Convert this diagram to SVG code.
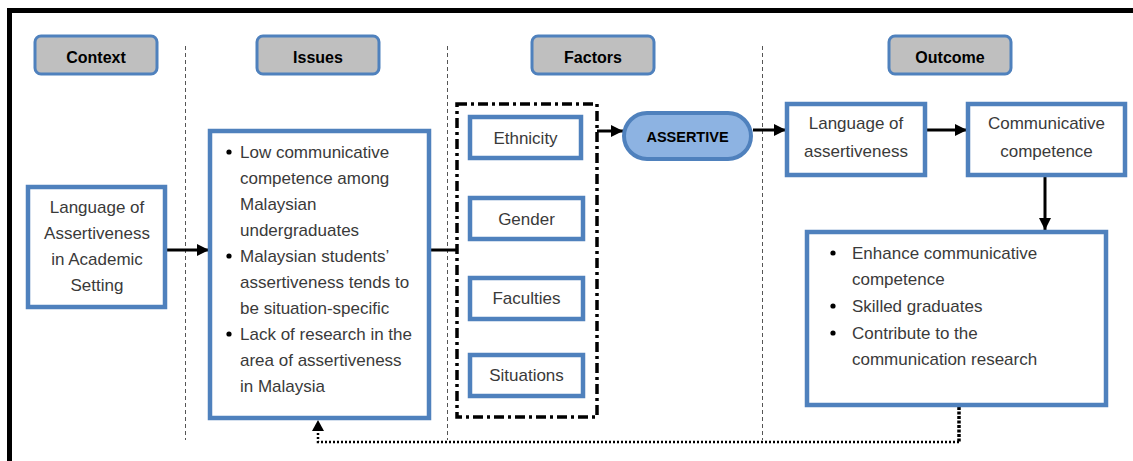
<svg xmlns="http://www.w3.org/2000/svg" width="1133" height="461" viewBox="0 0 1133 461">
  <defs>
    <marker id="arrow" viewBox="0 0 10 10" refX="10" refY="5" markerWidth="4" markerHeight="4" orient="auto" markerUnits="strokeWidth">
      <path d="M0,0 L10,5 L0,10 z" fill="#000"/>
    </marker>
    <marker id="arrowSmall" viewBox="0 0 10 10" refX="10" refY="5" markerWidth="5" markerHeight="5" orient="auto" markerUnits="strokeWidth">
      <path d="M0,0 L10,5 L0,10 z" fill="#000"/>
    </marker>
  </defs>
  <style>
    .frame { fill: none; stroke: #000; stroke-width: 5; }
    .divider { stroke: #555; stroke-width: 1; stroke-dasharray: 4 3; fill: none; }
    .head rect { fill: #BFBFBF; stroke: #4F81BD; stroke-width: 3; }
    .head text { font-family: "Liberation Sans", Arial, sans-serif; font-size: 16px; font-weight: bold; fill: #000; text-anchor: middle; }
    .box { fill: #fff; stroke: #4F81BD; stroke-width: 4.5; }
    .txt { font-family: "Liberation Sans", Arial, sans-serif; font-size: 17px; fill: #3a3a3a; }
    .mid { text-anchor: middle; }
    .pill { fill: #8DB3E2; stroke: #4F81BD; stroke-width: 4; }
    .pilltxt { font-family: "Liberation Sans", Arial, sans-serif; font-size: 14.5px; font-weight: bold; fill: #000; text-anchor: middle; }
    .group { fill: none; stroke: #000; stroke-width: 3.5; stroke-dasharray: 10 4 3 4; }
    .link { fill: none; stroke: #000; stroke-width: 3; }
    .feedback { fill: none; stroke: #000; stroke-width: 2.5; stroke-dasharray: 2 2; }
    .feedbackBold { fill: none; stroke: #000; stroke-width: 3.5; stroke-dasharray: 3 1.5; }
    .bullet { fill: #000; }
  </style>

  <rect width="1133" height="461" fill="#fff"/>

  <!-- outer frame: top and left edges -->
  <path class="frame" d="M9.5,461 L9.5,10.5 L1133,10.5"/>

  <!-- column dividers -->
  <g id="dividers">
    <line class="divider" x1="185.5" y1="46" x2="185.5" y2="440"/>
    <line class="divider" x1="447.5" y1="46" x2="447.5" y2="440"/>
    <line class="divider" x1="762.5" y1="46" x2="762.5" y2="440"/>
  </g>

  <!-- column headers -->
  <g id="head-context" class="head">
    <rect x="35" y="36" width="122" height="38" rx="6"/>
    <text x="96" y="63">Context</text>
  </g>
  <g id="head-issues" class="head">
    <rect x="257" y="36" width="122" height="38" rx="6"/>
    <text x="318" y="63">Issues</text>
  </g>
  <g id="head-factors" class="head">
    <rect x="532" y="36" width="122" height="38" rx="6"/>
    <text x="593" y="63">Factors</text>
  </g>
  <g id="head-outcome" class="head">
    <rect x="889" y="36" width="122" height="38" rx="6"/>
    <text x="950" y="63">Outcome</text>
  </g>

  <!-- connectors -->
  <g id="connectors">
    <line class="link" x1="167" y1="250" x2="209" y2="250" marker-end="url(#arrow)"/>
    <line class="link" x1="431" y1="250" x2="457" y2="250"/>
    <line class="link" x1="597" y1="131" x2="623" y2="131" marker-end="url(#arrow)"/>
    <line class="link" x1="753" y1="130" x2="786" y2="130" marker-end="url(#arrow)"/>
    <line class="link" x1="927" y1="130" x2="967" y2="130" marker-end="url(#arrow)"/>
    <line class="link" x1="1045" y1="177" x2="1045" y2="230" marker-end="url(#arrow)"/>
    <line class="feedbackBold" x1="959" y1="407" x2="959" y2="442"/>
    <path class="feedback" d="M959,442 L318,442 L318,430"/>
    <path d="M312,431 L318,420 L324,431 z" fill="#000"/>
  </g>

  <!-- context -->
  <g id="context">
    <rect class="box" x="28" y="187" width="137" height="120"/>
    <text class="txt mid" x="97" y="213">Language of</text>
    <text class="txt mid" x="97" y="239">Assertiveness</text>
    <text class="txt mid" x="97" y="265">in Academic</text>
    <text class="txt mid" x="97" y="291">Setting</text>
  </g>

  <!-- issues -->
  <g id="issues">
    <rect class="box" x="210" y="131" width="219" height="287"/>
    <circle class="bullet" cx="229" cy="152" r="2.6"/>
    <circle class="bullet" cx="229" cy="256" r="2.6"/>
    <circle class="bullet" cx="229" cy="334" r="2.6"/>
    <text class="txt" x="240" y="158">Low communicative</text>
    <text class="txt" x="240" y="184">competence among</text>
    <text class="txt" x="240" y="210">Malaysian</text>
    <text class="txt" x="240" y="236">undergraduates</text>
    <text class="txt" x="240" y="262">Malaysian students’</text>
    <text class="txt" x="240" y="288">assertiveness tends to</text>
    <text class="txt" x="240" y="314">be situation-specific</text>
    <text class="txt" x="240" y="340">Lack of research in the</text>
    <text class="txt" x="240" y="366">area of assertiveness</text>
    <text class="txt" x="240" y="392">in Malaysia</text>
  </g>

  <!-- factors -->
  <g id="factors">
    <rect class="group" x="457" y="104" width="140" height="313"/>
  </g>
  <g id="factor-ethnicity">
    <rect class="box" x="470" y="117" width="111" height="41"/>
    <text class="txt mid" x="525.5" y="144">Ethnicity</text>
  </g>
  <g id="factor-gender">
    <rect class="box" x="470" y="198" width="113" height="41"/>
    <text class="txt mid" x="526.5" y="225">Gender</text>
  </g>
  <g id="factor-faculties">
    <rect class="box" x="470" y="278" width="113" height="41"/>
    <text class="txt mid" x="526.5" y="304">Faculties</text>
  </g>
  <g id="factor-situations">
    <rect class="box" x="470" y="355" width="113" height="41"/>
    <text class="txt mid" x="526.5" y="381">Situations</text>
  </g>

  <!-- assertive -->
  <g id="assertive">
    <rect class="pill" x="624" y="113" width="127" height="46" rx="23"/>
    <text class="pilltxt" x="687.5" y="142">ASSERTIVE</text>
  </g>

  <!-- outcomes -->
  <g id="language-of-assertiveness">
    <rect class="box" x="787" y="104" width="138" height="71"/>
    <text class="txt mid" x="856" y="129">Language of</text>
    <text class="txt mid" x="856" y="157">assertiveness</text>
  </g>
  <g id="communicative-competence">
    <rect class="box" x="968" y="104" width="157" height="71"/>
    <text class="txt mid" x="1046.5" y="129">Communicative</text>
    <text class="txt mid" x="1046.5" y="157">competence</text>
  </g>
  <g id="benefits">
    <rect class="box" x="807" y="232" width="299" height="173"/>
    <circle class="bullet" cx="833" cy="253" r="2.6"/>
    <circle class="bullet" cx="833" cy="306" r="2.6"/>
    <circle class="bullet" cx="833" cy="333" r="2.6"/>
    <text class="txt" x="852" y="259">Enhance communicative</text>
    <text class="txt" x="852" y="285">competence</text>
    <text class="txt" x="852" y="312">Skilled graduates</text>
    <text class="txt" x="852" y="339">Contribute to the</text>
    <text class="txt" x="852" y="365">communication research</text>
  </g>
</svg>
